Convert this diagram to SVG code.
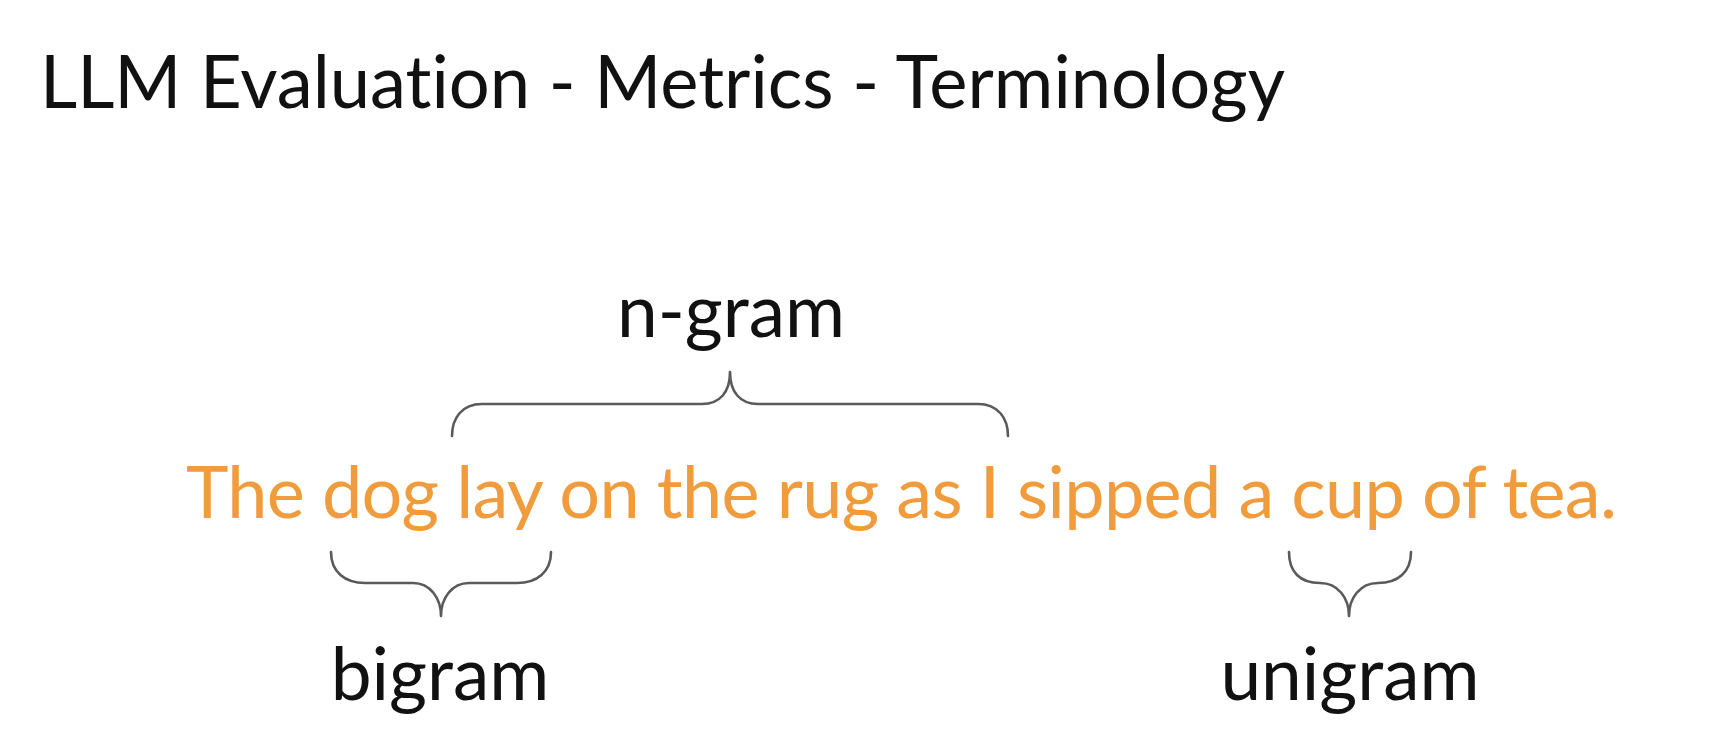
<svg xmlns="http://www.w3.org/2000/svg" width="1728" height="742" viewBox="0 0 1728 742">
<style>
.t{font-family:Lato,"Open Sans","Liberation Sans",sans-serif;font-size:73px;fill:#111;font-variant-ligatures:none}
.s{font-family:Lato,"Open Sans","Liberation Sans",sans-serif;font-size:72px;fill:#F09B3C;font-variant-ligatures:none}
.b{fill:none;stroke:#5a5a5a;stroke-width:2.6;stroke-linecap:round;stroke-linejoin:round}
</style>
<rect width="1728" height="742" fill="#fff"/>
<g id="title"><text class="t" x="40" y="108" style="font-size:74px" textLength="1245" lengthAdjust="spacingAndGlyphs">LLM Evaluation - Metrics - Terminology</text></g>
<g id="sentence"><text class="s" x="186" y="518" textLength="1431" lengthAdjust="spacing">The dog lay on the rug as I sipped a cup of tea.</text></g>
<g id="ngram"><text class="t" x="731" y="337" text-anchor="middle">n-gram</text></g>
<g id="bigram"><text class="t" x="440" y="700" text-anchor="middle">bigram</text></g>
<g id="unigram"><text class="t" x="1350" y="700" text-anchor="middle">unigram</text></g>
<g id="connectors">
<path class="b" d="M452,436 C452,418 462,404 482,404 L702,404 C720,404 730,392 730,372 C730,392 740,404 758,404 L978,404 C998,404 1008,418 1008,436"/>
<path class="b" d="M331,552 C331,572 345,583 365,583 L413,583 C430,583 441,598 441,616 C441,598 452,583 469,583 L517,583 C537,583 551,572 551,552"/>
<path class="b" d="M1289,552 C1289,572 1300,583 1320,583 C1338,583 1349,598 1349,616 C1349,598 1360,583 1378,583 C1398,583 1411,572 1411,552"/>
</g>
</svg>
